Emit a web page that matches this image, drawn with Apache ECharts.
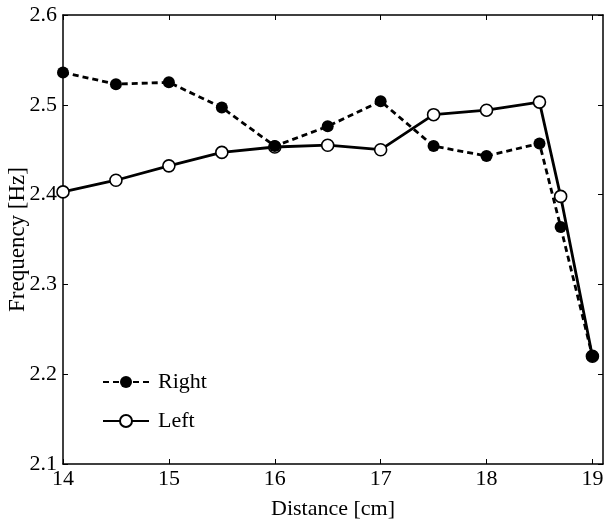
<!DOCTYPE html>
<html>
<head>
<meta charset="utf-8">
<script src="https://cdn.jsdelivr.net/npm/echarts@6/dist/echarts.min.js"></script>
<style>html,body{margin:0;padding:0;background:#fff}#c{width:607px;height:527px}</style>
</head>
<body>
<div id="c"></div>
<script>
var distance = [14, 14.5, 15, 15.5, 16, 16.5, 17, 17.5, 18, 18.5, 18.7, 19];
var rightFreq = [2.536, 2.523, 2.525, 2.497, 2.454, 2.476, 2.504, 2.454, 2.443, 2.457, 2.364, 2.220];
var leftFreq = [2.403, 2.416, 2.432, 2.447, 2.453, 2.455, 2.450, 2.489, 2.494, 2.503, 2.398, 2.220];
var xTicks = [14, 15, 16, 17, 18, 19];
var yTicks = [2.1, 2.2, 2.3, 2.4, 2.5, 2.6];

function pairs(xs, ys) { return xs.map(function (x, i) { return [x, ys[i]]; }); }

var font = '"Liberation Serif", "Times New Roman", serif';
var axisLine = { show: true, onZero: false, lineStyle: { color: '#000', width: 1.5 } };
var tick = { show: true, inside: true, length: 5, lineStyle: { color: '#000', width: 1 } };

var chart = echarts.init(document.getElementById('c'), null, { renderer: 'canvas' });
chart.setOption({
  backgroundColor: '#fff',
  animation: false,
  textStyle: { fontFamily: font, color: '#000' },
  grid: { left: 63, right: 4, top: 15, bottom: 63, containLabel: false, outerBoundsMode: 'none' },
  legend: {
    orient: 'vertical',
    left: 97,
    top: 366,
    itemWidth: 46,
    itemHeight: 15,
    itemGap: 17,
    data: ['Right', 'Left'],
    textStyle: { fontFamily: font, fontSize: 22, color: '#000', padding: [0, 0, 0, 4] }
  },
  xAxis: [
    {
      type: 'value', position: 'bottom', min: 14, max: 19.1, interval: 1,
      name: 'Distance [cm]', nameLocation: 'middle', nameGap: 34, nameMoveOverlap: false,
      nameTextStyle: { fontFamily: font, fontSize: 22, color: '#000' },
      axisLine: axisLine,
      axisTick: Object.assign({ customValues: xTicks }, tick),
      axisLabel: { customValues: xTicks, fontFamily: font, fontSize: 22, color: '#000', margin: 4,
        formatter: function (v) { return Math.abs(v - Math.round(v)) < 1e-6 ? String(Math.round(v)) : ''; } },
      splitLine: { show: false }
    },
    {
      type: 'value', position: 'top', min: 14, max: 19.1, interval: 1,
      axisLine: axisLine,
      axisTick: Object.assign({ customValues: xTicks }, tick),
      axisLabel: { show: false },
      splitLine: { show: false }
    }
  ],
  yAxis: [
    {
      type: 'value', position: 'left', min: 2.1, max: 2.6, interval: 0.1,
      name: 'Frequency [Hz]', nameLocation: 'middle', nameGap: 34, nameMoveOverlap: false,
      nameTextStyle: { fontFamily: font, fontSize: 23, color: '#000' },
      axisLine: axisLine,
      axisTick: Object.assign({ customValues: yTicks }, tick),
      axisLabel: { customValues: yTicks, fontFamily: font, fontSize: 22, color: '#000', margin: 6,
        formatter: function (v) { return v.toFixed(1); } },
      splitLine: { show: false }
    },
    {
      type: 'value', position: 'right', min: 2.1, max: 2.6, interval: 0.1,
      axisLine: axisLine,
      axisTick: Object.assign({ customValues: yTicks }, tick),
      axisLabel: { show: false },
      splitLine: { show: false }
    }
  ],
  series: [
    {
      name: 'Left', type: 'line', data: pairs(distance, leftFreq),
      symbol: 'circle', symbolSize: 12, showAllSymbol: true,
      lineStyle: { color: '#000', width: 2.8, type: 'solid' },
      itemStyle: { color: '#fff', borderColor: '#000', borderWidth: 1.6 },
      z: 2
    },
    {
      name: 'Right', type: 'line', data: pairs(distance, rightFreq),
      symbol: 'circle', symbolSize: 12, showAllSymbol: true,
      lineStyle: { color: '#000', width: 2.8, type: [6, 4] },
      itemStyle: { color: '#000', borderColor: '#000', borderWidth: 0 },
      z: 3
    }
  ]
});
</script>
</body>
</html>
